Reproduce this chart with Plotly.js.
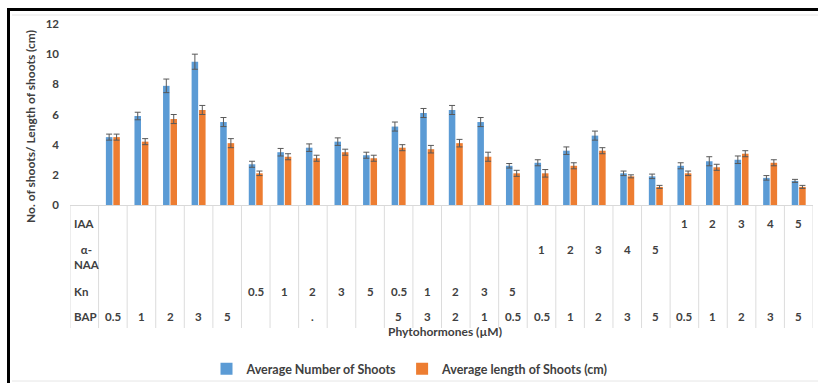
<!DOCTYPE html>
<html>
<head>
<meta charset="utf-8">
<script src="https://cdn.plot.ly/plotly-3.0.1.min.js"></script>
<style>
  html, body { margin: 0; padding: 0; background: #fff; }
  #chart { width: 818px; height: 383px; }
</style>
</head>
<body>
<div id="chart"></div>
<script>
// Hormone concentration table (µM) shown under each treatment column
const IAA = ['', '', '', '', '', '', '', '', '', '', '', '', '', '', '', '', '', '', '', '', '1', '2', '3', '4', '5'];
const NAA = ['', '', '', '', '', '', '', '', '', '', '', '', '', '', '', '1', '2', '3', '4', '5', '', '', '', '', ''];
const Kn  = ['', '', '', '', '', '0.5', '1', '2', '3', '5', '0.5', '1', '2', '3', '5', '', '', '', '', '', '', '', '', '', ''];
const BAP = ['0.5', '1', '2', '3', '5', '', '', '.', '', '', '5', '3', '2', '1', '0.5', '0.5', '1', '2', '3', '5', '0.5', '1', '2', '3', '5'];
const rowNames = ['IAA', 'α-<br>NAA', 'Kn', 'BAP'];

// Shoot response per treatment
const shootNumber    = [4.5, 5.9, 7.9, 9.5, 5.5, 2.7, 3.5, 3.8, 4.2, 3.3, 5.2, 6.1, 6.3, 5.5, 2.6, 2.8, 3.6, 4.6, 2.1, 1.9, 2.6, 2.9, 3.0, 1.8, 1.6];
const shootNumberErr = [0.2, 0.25, 0.45, 0.5, 0.3, 0.2, 0.25, 0.25, 0.25, 0.2, 0.3, 0.3, 0.3, 0.3, 0.15, 0.2, 0.25, 0.3, 0.15, 0.15, 0.2, 0.3, 0.25, 0.15, 0.1];
const shootLength    = [4.5, 4.2, 5.7, 6.3, 4.1, 2.1, 3.2, 3.1, 3.5, 3.1, 3.8, 3.7, 4.1, 3.2, 2.1, 2.1, 2.6, 3.6, 1.9, 1.2, 2.1, 2.5, 3.4, 2.8, 1.2];
const shootLengthErr = [0.2, 0.2, 0.3, 0.3, 0.3, 0.15, 0.2, 0.2, 0.2, 0.2, 0.2, 0.25, 0.25, 0.3, 0.2, 0.25, 0.2, 0.2, 0.1, 0.1, 0.15, 0.2, 0.2, 0.2, 0.1];

const seriesNames = ['Average Number of Shoots', 'Average length of Shoots (cm)'];
const yTitle = 'No. of shoots/ Length of shoots (cm)';
const xTitle = 'Phytohormones (µM)';

// Geometry (pixels)
const W = 818, H = 383;
const M = { l: 70, r: 5, t: 24, b: 178, autoexpand: false };
const PW = W - M.l - M.r, PH = H - M.t - M.b;
const zeroY = M.t + PH;
const px = (x) => (x - M.l) / PW;          // pixel -> paper x
const py = (y) => (zeroY - y) / PH;        // pixel -> paper y

const FONT = 'Lato, "Open Sans", sans-serif';
const TXT = '#404040';

// treatment column index (column 0 holds the row headers)
const xs = BAP.map((_, i) => i + 1);

const traces = [
  {
    type: 'bar', name: seriesNames[0], x: xs, y: shootNumber,
    marker: { color: '#5B9BD5' },
    error_y: { type: 'data', array: shootNumberErr, visible: true, color: '#595959', thickness: 1, width: 3 }
  },
  {
    type: 'bar', name: seriesNames[1], x: xs, y: shootLength,
    marker: { color: '#ED7D31' },
    error_y: { type: 'data', array: shootLengthErr, visible: true, color: '#595959', thickness: 1, width: 3 }
  }
];

const annotations = [];
const rowY = [223, 249, 291, 316];
const headerY = [223, 257, 291, 316];
const rows = [IAA, NAA, Kn, BAP];
rows.forEach((row, r) => {
  annotations.push({
    xref: 'x', yref: 'paper', x: -0.5, y: 0, xanchor: 'left', yanchor: 'middle',
    xshift: 2, yshift: -(headerY[r] - zeroY), text: rowNames[r], showarrow: false,
    font: { family: FONT, size: 11.5, color: TXT, weight: 'bold' }
  });
  row.forEach((v, i) => {
    if (v === '') return;
    annotations.push({
      xref: 'x', yref: 'paper', x: i + 1, y: 0, xanchor: 'center', yanchor: 'middle',
      yshift: -(rowY[r] - zeroY), text: v, showarrow: false,
      font: { family: FONT, size: 11.5, color: TXT, weight: 'bold' }
    });
  });
});
annotations.push({
  xref: 'paper', yref: 'paper', x: px(445), y: py(331), xanchor: 'center', yanchor: 'middle',
  text: xTitle, showarrow: false, font: { family: FONT, size: 12, color: TXT, weight: 'bold' }
});
annotations.push({
  xref: 'paper', yref: 'paper', x: px(30), y: py(127), xanchor: 'center', yanchor: 'middle',
  text: yTitle, textangle: -90, showarrow: false, font: { family: FONT, size: 12, color: TXT, weight: 'bold' }
});

// data-table column rules
const shapes = [];
for (let k = 0; k <= xs.length + 1; k++) {
  shapes.push({
    type: 'line', xref: 'x', yref: 'paper', x0: k - 0.5, x1: k - 0.5, y0: py(328), y1: 0,
    line: { color: '#DCDCDC', width: 1 }, layer: 'below'
  });
}
// faint chart-area edges and the outer frame
[15, 381].forEach((yy) => shapes.push({
  type: 'line', xref: 'paper', yref: 'paper', x0: px(12), x1: px(818), y0: py(yy), y1: py(yy),
  line: { color: '#E6E6E6', width: 1 }, layer: 'below'
}));
shapes.push({
  type: 'rect', xref: 'paper', yref: 'paper', x0: px(8.5), x1: px(860), y0: py(440), y1: py(9.5),
  line: { color: '#000', width: 3 }
});

const layout = {
  width: W, height: H, margin: M,
  paper_bgcolor: '#fff', plot_bgcolor: '#fff',
  barmode: 'group', bargap: 0.48, bargroupgap: 0.12,
  showlegend: true,
  legend: {
    orientation: 'h', x: px(410), xanchor: 'center', y: py(369), yanchor: 'middle',
    font: { family: FONT, size: 12.5, color: TXT, weight: 'bold' }, bgcolor: 'rgba(0,0,0,0)'
  },
  xaxis: {
    range: [-0.5, xs.length + 0.5], showticklabels: false, ticks: '', showgrid: false,
    zeroline: false, showline: true, linecolor: '#D9D9D9', linewidth: 1, fixedrange: true
  },
  yaxis: {
    range: [0, 12], dtick: 2, showgrid: false, zeroline: false, showline: false, ticks: '',
    ticklabelstandoff: 10,
    tickfont: { family: FONT, size: 11.5, color: TXT, weight: 'bold' }, fixedrange: true
  },
  annotations, shapes
};

Plotly.newPlot('chart', traces, layout, { displayModeBar: false, staticPlot: true });
</script>
</body>
</html>
